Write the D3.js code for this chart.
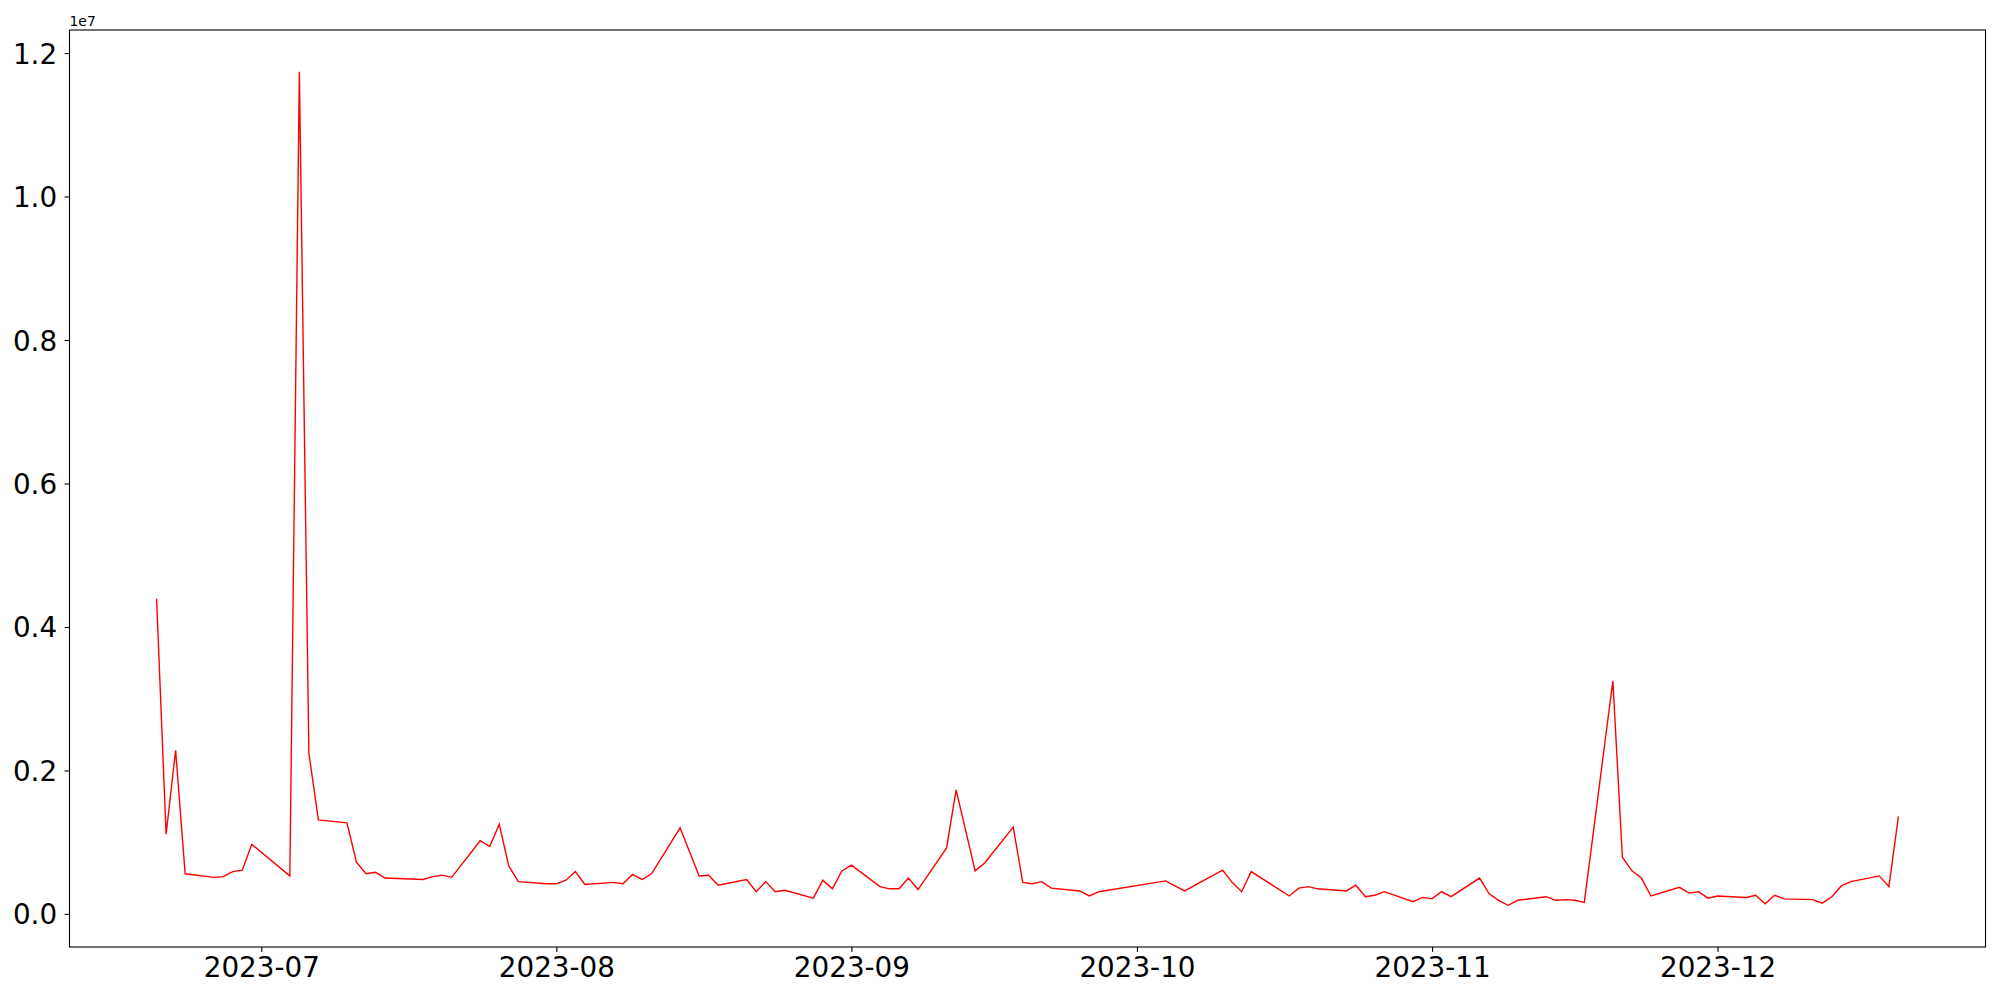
<!DOCTYPE html>
<html>
<head>
<meta charset="utf-8">
<script src="https://cdn.jsdelivr.net/npm/d3@7"></script>
<style>
  body { margin: 0; background: #fff; }
  svg { display: block; font-family: "DejaVu Sans", sans-serif; }
</style>
</head>
<body>
<svg id="chart" width="2000" height="1000"></svg>
<script>
// Trading dates and values
const dates = [
  "2023-06-20", "2023-06-21", "2023-06-22", "2023-06-23", "2023-06-26", "2023-06-27", "2023-06-28", "2023-06-29", "2023-06-30",
  "2023-07-04", "2023-07-05", "2023-07-06", "2023-07-07", "2023-07-10", "2023-07-11", "2023-07-12", "2023-07-13", "2023-07-14",
  "2023-07-18", "2023-07-19", "2023-07-20", "2023-07-21", "2023-07-24", "2023-07-25", "2023-07-26", "2023-07-27", "2023-07-28",
  "2023-07-31", "2023-08-01", "2023-08-02", "2023-08-03", "2023-08-04", "2023-08-07", "2023-08-08", "2023-08-09", "2023-08-10",
  "2023-08-11", "2023-08-14", "2023-08-16", "2023-08-17", "2023-08-18", "2023-08-21", "2023-08-22", "2023-08-23", "2023-08-24",
  "2023-08-25", "2023-08-28", "2023-08-29", "2023-08-30", "2023-08-31", "2023-09-01", "2023-09-04", "2023-09-05", "2023-09-06",
  "2023-09-07", "2023-09-08", "2023-09-11", "2023-09-12", "2023-09-14", "2023-09-15", "2023-09-18", "2023-09-19", "2023-09-20",
  "2023-09-21", "2023-09-22", "2023-09-25", "2023-09-26", "2023-09-27", "2023-10-04", "2023-10-06", "2023-10-10", "2023-10-11",
  "2023-10-12", "2023-10-13", "2023-10-17", "2023-10-18", "2023-10-19", "2023-10-20", "2023-10-23", "2023-10-24", "2023-10-25",
  "2023-10-26", "2023-10-27", "2023-10-30", "2023-10-31", "2023-11-01", "2023-11-02", "2023-11-03", "2023-11-06", "2023-11-07",
  "2023-11-08", "2023-11-09", "2023-11-10", "2023-11-13", "2023-11-14", "2023-11-15", "2023-11-16", "2023-11-17", "2023-11-20",
  "2023-11-21", "2023-11-22", "2023-11-23", "2023-11-24", "2023-11-27", "2023-11-28", "2023-11-29", "2023-11-30", "2023-12-01",
  "2023-12-04", "2023-12-05", "2023-12-06", "2023-12-07", "2023-12-08", "2023-12-11", "2023-12-12", "2023-12-13", "2023-12-14",
  "2023-12-15", "2023-12-18", "2023-12-19", "2023-12-20"
];

const values = [
  4390000, 1110000, 2280000, 560000, 510000, 520000, 590000, 610000, 970000,
  530000, 11740000, 2240000, 1310000, 1270000, 720000, 560000, 580000, 500000,
  480000, 520000, 540000, 510000, 1020000, 940000, 1250000, 670000, 450000,
  420000, 420000, 470000, 590000, 410000, 440000, 420000, 550000, 480000,
  560000, 1200000, 530000, 540000, 400000, 480000, 310000, 450000, 310000,
  330000, 220000, 470000, 350000, 600000, 680000, 380000, 350000, 350000,
  500000, 340000, 920000, 1730000, 600000, 710000, 1210000, 440000, 420000,
  450000, 360000, 320000, 250000, 310000, 460000, 320000, 610000, 440000,
  310000, 590000, 250000, 360000, 380000, 350000, 320000, 400000, 240000,
  260000, 310000, 170000, 230000, 210000, 310000, 240000, 500000, 280000,
  190000, 120000, 190000, 240000, 190000, 200000, 190000, 160000, 3250000,
  790000, 600000, 500000, 250000, 370000, 290000, 310000, 220000, 250000,
  230000, 260000, 140000, 260000, 210000, 200000, 150000, 240000, 390000,
  450000, 530000, 380000, 1360000
];

const yTicks = [0, 2000000, 4000000, 6000000, 8000000, 10000000, 12000000];
const offsetLabel = "1e7";

const width = 2000;
const height = 1000;
const margin = { top: 30, right: 14.5, bottom: 53, left: 69.5 };
const plotWidth = width - margin.left - margin.right;
const plotHeight = height - margin.top - margin.bottom;
const font = "DejaVu Sans, sans-serif";

const parse = d3.utcParse("%Y-%m-%d");
const data = dates.map((d, i) => ({ date: parse(d), value: values[i] }));

const svg = d3.select("#chart");
const container = svg.append("g").attr("transform", `translate(${margin.left},${margin.top})`);

// matplotlib-like 5% padding on both axes
const xExt = d3.extent(data, d => d.date);
const xPad = (xExt[1] - xExt[0]) * 0.05;
const xScale = d3.scaleUtc()
  .domain([new Date(+xExt[0] - xPad), new Date(+xExt[1] + xPad)])
  .range([0, plotWidth]);

const yExt = d3.extent(data, d => d.value);
const yPad = (yExt[1] - yExt[0]) * 0.05;
const yScale = d3.scaleLinear()
  .domain([yExt[0] - yPad, yExt[1] + yPad])
  .range([plotHeight, 0]);

// x axis
const xAxis = container.append("g")
  .attr("transform", `translate(0,${plotHeight})`)
  .call(d3.axisBottom(xScale)
    .ticks(d3.utcMonth.every(1))
    .tickFormat(d3.utcFormat("%Y-%m"))
    .tickSize(4.9)
    .tickPadding(4.9)
    .tickSizeOuter(0))
  .attr("font-family", font)
  .attr("font-size", 27.8);
xAxis.select(".domain").remove();
xAxis.selectAll("line").attr("stroke", "#000").attr("stroke-width", 1.1);
xAxis.selectAll("text")
  .attr("fill", "#000")
  .attr("dy", "0.74em");

// y axis
const yAxis = container.append("g")
  .call(d3.axisLeft(yScale)
    .tickValues(yTicks)
    .tickFormat(d => (d / 1e7).toFixed(1))
    .tickSize(4.9)
    .tickPadding(7.5)
    .tickSizeOuter(0))
  .attr("font-family", font)
  .attr("font-size", 27.8);
yAxis.select(".domain").remove();
yAxis.selectAll("line").attr("stroke", "#000").attr("stroke-width", 1.1);
yAxis.selectAll("text")
  .attr("fill", "#000")
  .attr("dy", "0.36em");

// the line
const line = d3.line()
  .x(d => xScale(d.date))
  .y(d => yScale(d.value));

container.append("path")
  .datum(data)
  .attr("fill", "none")
  .attr("stroke", "#ff0000")
  .attr("stroke-width", 1.4)
  .attr("stroke-linejoin", "miter")
  .attr("d", line);

// frame
container.append("rect")
  .attr("width", plotWidth)
  .attr("height", plotHeight)
  .attr("fill", "none")
  .attr("stroke", "#000")
  .attr("stroke-width", 1.1);

// offset text above the y axis
svg.append("text")
  .attr("x", margin.left)
  .attr("y", margin.top - 4)
  .attr("font-family", font)
  .attr("font-size", 13.9)
  .attr("fill", "#000")
  .text(offsetLabel);
</script>
</body>
</html>
